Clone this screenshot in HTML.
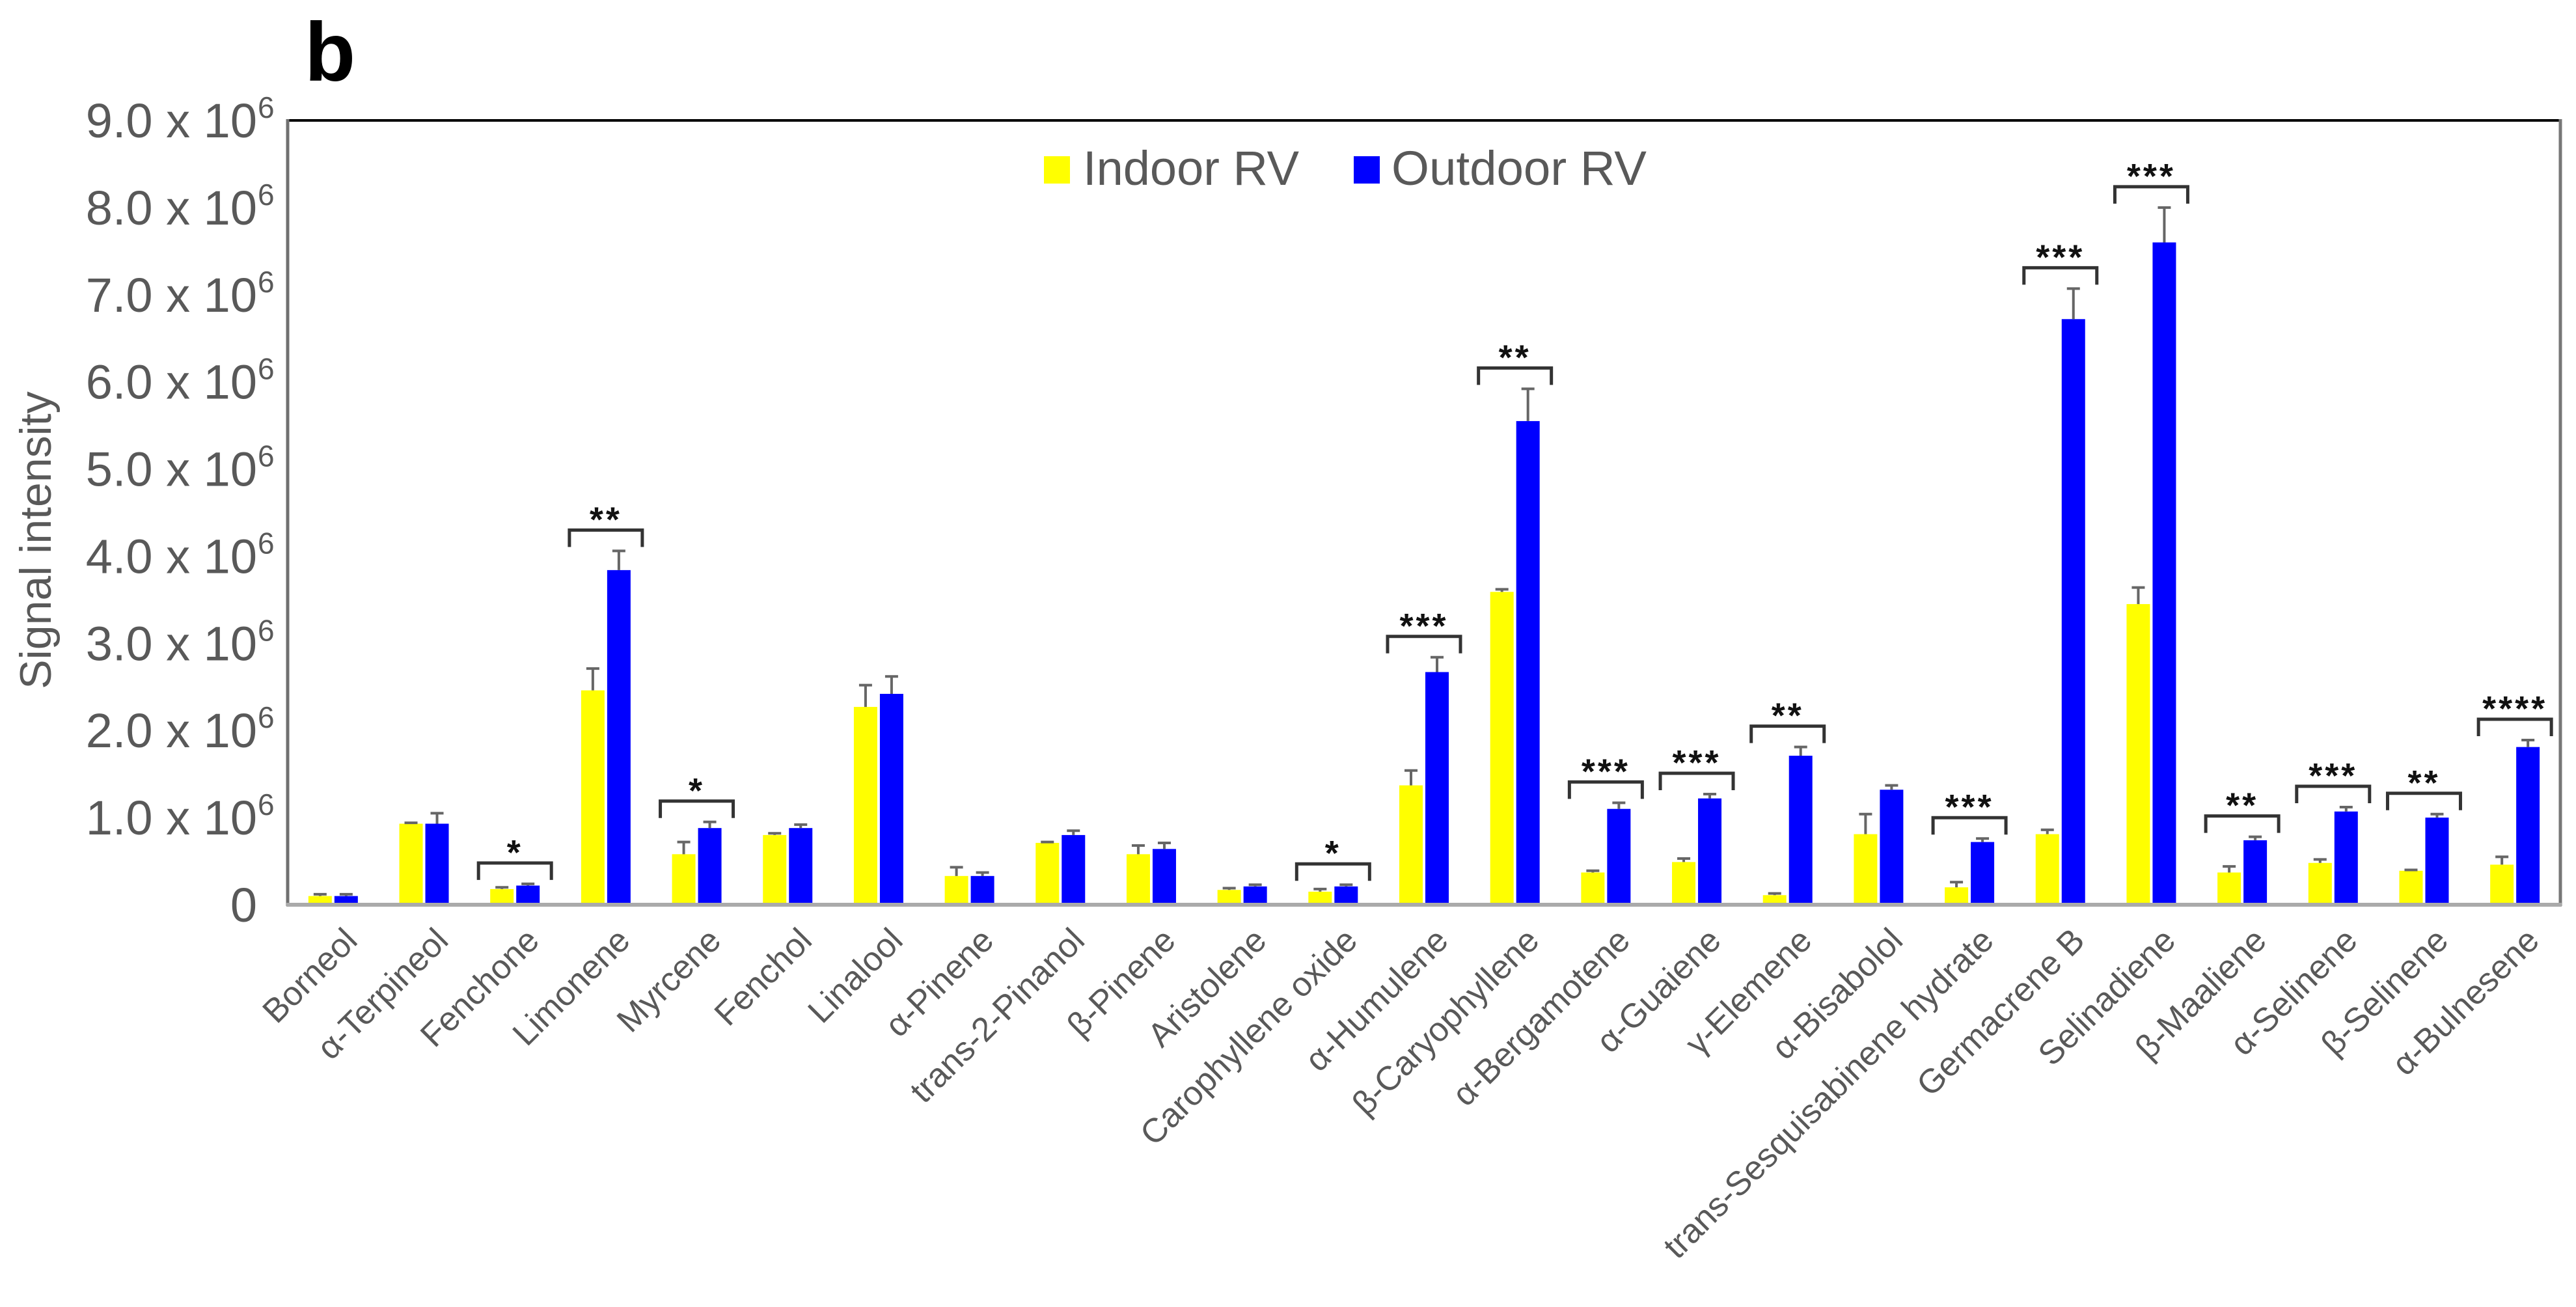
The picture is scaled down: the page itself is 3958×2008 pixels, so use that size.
<!DOCTYPE html>
<html><head><meta charset="utf-8"><style>
html,body{margin:0;padding:0;background:#fff;width:3958px;height:2008px;overflow:hidden}
svg{display:block;font-family:"Liberation Sans",Arial,sans-serif}
</style></head><body>
<svg id="chart" width="3958" height="2008" viewBox="0 0 3958 2008" xmlns="http://www.w3.org/2000/svg">
<text x="468" y="124" font-size="128" font-weight="bold" fill="#000">b</text>
<text transform="translate(78,830) rotate(-90)" text-anchor="middle" font-size="68" fill="#595959">Signal intensity</text>
<g>
<rect x="1604" y="240" width="40" height="42" fill="#ffff00"/>
<text x="1664" y="284" font-size="74" fill="#595959" textLength="332" lengthAdjust="spacingAndGlyphs">Indoor RV</text>
<rect x="2080" y="240" width="40" height="42" fill="#0000ff"/>
<text x="2138" y="284" font-size="74" fill="#595959" textLength="392" lengthAdjust="spacingAndGlyphs">Outdoor RV</text>
</g>
<g id="marks"></g>
<line x1="442" y1="185" x2="3934" y2="185" stroke="#000" stroke-width="4"/>
<line x1="3934" y1="183" x2="3934" y2="1392" stroke="#777" stroke-width="5"/>
<line x1="442" y1="183" x2="442" y2="1392" stroke="#707070" stroke-width="5"/>
<line x1="440" y1="1390" x2="3936" y2="1390" stroke="#aaaaaa" stroke-width="6"/>
</svg>
<script>
const categories = ["Borneol","α-Terpineol","Fenchone","Limonene","Myrcene","Fenchol","Linalool","α-Pinene","trans-2-Pinanol","β-Pinene","Aristolene","Carophyllene oxide","α-Humulene","β-Caryophyllene","α-Bergamotene","α-Guaiene","γ-Elemene","α-Bisabolol","trans-Sesquisabinene hydrate","Germacrene B","Selinadiene","β-Maaliene","α-Selinene","β-Selinene","α-Bulnesene"];
const indoorValues = [0.1,0.93,0.18,2.46,0.58,0.8,2.27,0.33,0.71,0.58,0.17,0.15,1.37,3.59,0.37,0.49,0.11,0.81,0.2,0.81,3.45,0.37,0.48,0.39,0.46];
const indoorErrors = [0.02,0.01,0.02,0.25,0.14,0.02,0.25,0.1,0.01,0.1,0.02,0.03,0.17,0.03,0.02,0.04,0.02,0.23,0.06,0.05,0.19,0.07,0.04,0.01,0.09];
const outdoorValues = [0.1,0.93,0.22,3.84,0.88,0.88,2.42,0.33,0.8,0.64,0.21,0.21,2.67,5.55,1.1,1.22,1.71,1.32,0.72,6.72,7.6,0.74,1.07,1.0,1.81];
const outdoorErrors = [0.02,0.12,0.02,0.22,0.07,0.04,0.2,0.04,0.05,0.07,0.02,0.02,0.17,0.37,0.07,0.05,0.1,0.05,0.04,0.35,0.4,0.04,0.05,0.04,0.08];
const significance = ["","","*","**","*","","","","","","","*","***","**","***","***","**","","***","***","***","**","***","**","****"];
const yTicks = [0,1,2,3,4,5,6,7,8,9];
const yTickLabels = ["0","1.0 x 10","2.0 x 10","3.0 x 10","4.0 x 10","5.0 x 10","6.0 x 10","7.0 x 10","8.0 x 10","9.0 x 10"];

const NS = "http://www.w3.org/2000/svg";
const L = 442, R = 3934, T = 185, B = 1390, YMAX = 9;
const band = (R - L) / categories.length;
function xCenter(i){ return L + band * (i + 0.5); }
function y(v){ return B - (v / YMAX) * (B - T); }
const svg = document.getElementById('chart');
const g = document.getElementById('marks');
function mk(tag, attrs, parent){
  const e = document.createElementNS(NS, tag);
  for (const k in attrs) e.setAttribute(k, attrs[k]);
  (parent || g).appendChild(e);
  return e;
}
yTicks.forEach((t, i) => {
  const tx = mk('text', {x: 395, y: y(t) + 26, 'font-size': 74, fill: '#595959', 'text-anchor': 'end'}, svg);
  
  
  tx.textContent = yTickLabels[i];
  if (t !== 0) {
    const sup = mk('text', {x: 396, y: y(t) - 4, 'font-size': 46, fill: '#595959'}, svg);
    
    
    sup.textContent = '6';
  }
});
const barW = 36, gap = 2;
categories.forEach((c, i) => {
  const cx = xCenter(i);
  const grp = mk('g', {});
  
  
  const series = [[indoorValues[i], indoorErrors[i], cx - gap - barW, '#ffff00', 'bar-indoor'],
                  [outdoorValues[i], outdoorErrors[i], cx + gap, '#0000ff', 'bar-outdoor']];
  series.forEach(s => {
    const [v, e, x0, col, nm] = s;
    const r = mk('rect', {x: x0, y: y(v), width: barW, height: B - y(v), fill: col}, grp);
    
    
    const xm = x0 + barW / 2;
    const eb = mk('path', {d: `M${xm},${y(v)}V${y(v+e)}M${xm-10},${y(v+e)}H${xm+10}`, stroke: '#666', 'stroke-width': 4, fill: 'none'}, grp);
    
    
  });
  const lab = mk('text', {transform: `translate(${cx + 40},1448) rotate(-45)`, 'text-anchor': 'end', 'font-size': 52, fill: '#595959'}, svg);
  
  
  lab.textContent = c;
  if (significance[i]) {
    const top = Math.min(y(indoorValues[i] + indoorErrors[i]), y(outdoorValues[i] + outdoorErrors[i]));
    const by = top - 32;
    const br = mk('path', {d: `M${cx-56},${by+26}V${by}H${cx+56}V${by+26}`, stroke: '#333', 'stroke-width': 5, fill: 'none'}, grp);
    
    
    const st = mk('text', {x: cx, y: by + 2, 'text-anchor': 'middle', 'font-size': 54, 'font-weight': 'bold', 'letter-spacing': 4, fill: '#111'}, grp);
    
    
    st.textContent = significance[i];
  }
});
</script>
</body></html>
